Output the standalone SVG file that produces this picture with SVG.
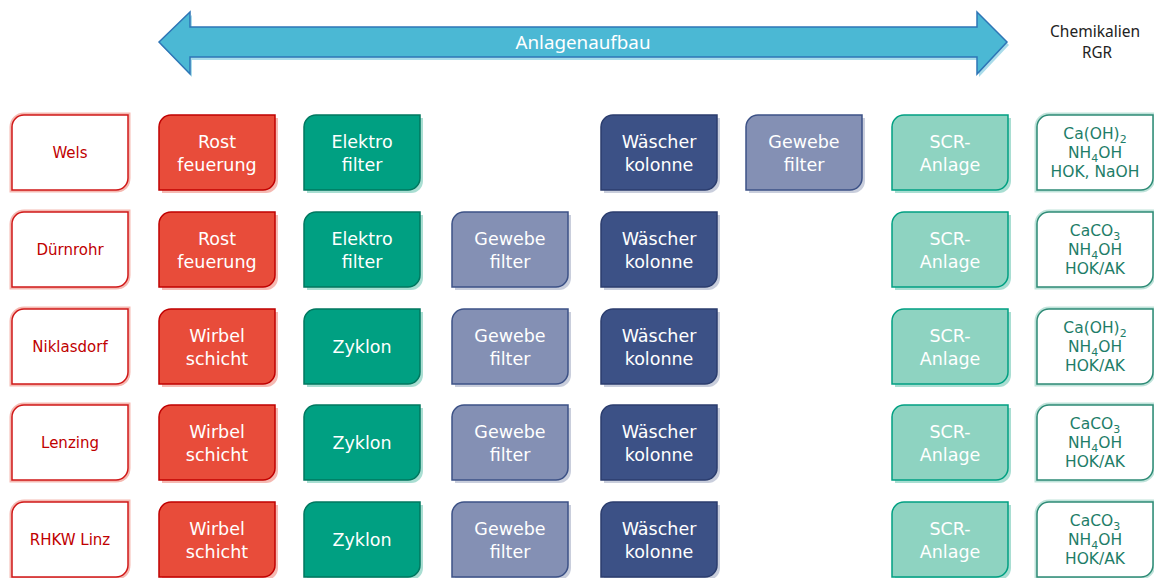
<svg xmlns="http://www.w3.org/2000/svg" xmlns:xlink="http://www.w3.org/1999/xlink" width="1154" height="578" viewBox="0 0 1154 578">
<style>
text{font-family:"DejaVu Sans",Verdana,sans-serif;text-anchor:middle}
.t{font-size:17.5px;fill:#fff}
.loc{font-size:15px;fill:#C00000}
.chem{font-size:15.5px;fill:#1E7D68}
.hdr{font-family:"Noto Sans","Liberation Sans",sans-serif;font-size:15.5px;fill:#222}
.sub{font-size:11px}
.sh-red{fill:#F5B9B2}
.sh-grn{fill:#A9DED2}
.sh-blu{fill:#C9CEDC}
.red{fill:#E84C3A;stroke:#C00000;stroke-width:1.5}
.grn{fill:#00A082;stroke:#00775F;stroke-width:1.5}
.dbl{fill:#3C5186;stroke:#2B3D6E;stroke-width:1.5}
.gew{fill:#8490B4;stroke:#3C5186;stroke-width:1.5}
.scr{fill:#8ED3C1;stroke:#00A082;stroke-width:1.5}
.wloc{fill:#fff;stroke:#F5B9B2;stroke-width:5}
.wlocIn{fill:#fff;stroke:#D01818;stroke-width:1.5}
.wch{fill:#fff;stroke:#BFE3DA;stroke-width:5}
.wchIn{fill:#fff;stroke:#2E8B76;stroke-width:1.5}
</style>
<defs>
<path id="b" d="M12,0 H116 V63 A12,12 0 0 1 104,75 H0 V12 A12,12 0 0 1 12,0 Z"/>
</defs>
<g id="arrow">
<polygon points="161,45 192,15 192,30 979,30 979,15 1009,45 979,77 979,60 192,60 192,77" fill="#A9DCEA"/>
<polygon points="159,42 190,12 190,27 977,27 977,12 1007,42 977,74 977,57 190,57 190,74" fill="#4BB8D4" stroke="#2E75B6" stroke-width="1.5"/>
<text x="583" y="49" style="font-family:'Noto Sans','Liberation Sans',sans-serif;font-size:18px;fill:#fff" textLength="135" lengthAdjust="spacingAndGlyphs">Anlagenaufbau</text>
</g>
<g id="hdr-chem">
<text class="hdr" x="1095" y="37" textLength="90" lengthAdjust="spacingAndGlyphs">Chemikalien</text>
<text class="hdr" x="1097" y="58" textLength="30" lengthAdjust="spacingAndGlyphs">RGR</text>
</g>

<!-- Row 1 -->
<g id="wels"><use href="#b" x="14" y="117" class="sh-red"/><use href="#b" x="12" y="115" class="wloc"/><use href="#b" x="12" y="115" class="wlocIn"/><text class="loc" x="70" y="158">Wels</text></g>
<g id="r1c1"><use href="#b" x="162" y="118" class="sh-red"/><use href="#b" x="159" y="115" class="red"/><text class="t" x="217" y="148">Rost</text><text class="t" x="217" y="171">feuerung</text></g>
<g id="r1c2"><use href="#b" x="307" y="118" class="sh-grn"/><use href="#b" x="304" y="115" class="grn"/><text class="t" x="362" y="148">Elektro</text><text class="t" x="362" y="171">filter</text></g>
<g id="r1c4"><use href="#b" x="604" y="118" class="sh-blu"/><use href="#b" x="601" y="115" class="dbl"/><text class="t" x="659" y="148">Wäscher</text><text class="t" x="659" y="171">kolonne</text></g>
<g id="r1c5"><use href="#b" x="749" y="118" class="sh-blu"/><use href="#b" x="746" y="115" class="gew"/><text class="t" x="804" y="148">Gewebe</text><text class="t" x="804" y="171">filter</text></g>
<g id="r1c6"><use href="#b" x="895" y="118" class="sh-grn"/><use href="#b" x="892" y="115" class="scr"/><text class="t" x="950" y="148">SCR-</text><text class="t" x="950" y="171">Anlage</text></g>
<g id="r1c7"><use href="#b" x="1037" y="115" class="wch"/><use href="#b" x="1037" y="115" class="wchIn"/><text class="chem" x="1095" y="139">Ca(OH)<tspan class="sub" dy="4">2</tspan></text><text class="chem" x="1095" y="158">NH<tspan class="sub" dy="4">4</tspan><tspan dy="-4">OH</tspan></text><text class="chem" x="1095" y="177">HOK, NaOH</text></g>

<!-- Row 2 -->
<g id="duernrohr"><use href="#b" x="14" y="214" class="sh-red"/><use href="#b" x="12" y="212" class="wloc"/><use href="#b" x="12" y="212" class="wlocIn"/><text class="loc" x="70" y="255">Dürnrohr</text></g>
<g id="r2c1"><use href="#b" x="162" y="215" class="sh-red"/><use href="#b" x="159" y="212" class="red"/><text class="t" x="217" y="245">Rost</text><text class="t" x="217" y="268">feuerung</text></g>
<g id="r2c2"><use href="#b" x="307" y="215" class="sh-grn"/><use href="#b" x="304" y="212" class="grn"/><text class="t" x="362" y="245">Elektro</text><text class="t" x="362" y="268">filter</text></g>
<g id="r2c3"><use href="#b" x="455" y="215" class="sh-blu"/><use href="#b" x="452" y="212" class="gew"/><text class="t" x="510" y="245">Gewebe</text><text class="t" x="510" y="268">filter</text></g>
<g id="r2c4"><use href="#b" x="604" y="215" class="sh-blu"/><use href="#b" x="601" y="212" class="dbl"/><text class="t" x="659" y="245">Wäscher</text><text class="t" x="659" y="268">kolonne</text></g>
<g id="r2c6"><use href="#b" x="895" y="215" class="sh-grn"/><use href="#b" x="892" y="212" class="scr"/><text class="t" x="950" y="245">SCR-</text><text class="t" x="950" y="268">Anlage</text></g>
<g id="r2c7"><use href="#b" x="1037" y="212" class="wch"/><use href="#b" x="1037" y="212" class="wchIn"/><text class="chem" x="1095" y="236">CaCO<tspan class="sub" dy="4">3</tspan></text><text class="chem" x="1095" y="255">NH<tspan class="sub" dy="4">4</tspan><tspan dy="-4">OH</tspan></text><text class="chem" x="1095" y="274">HOK/AK</text></g>

<!-- Row 3 -->
<g id="niklasdorf"><use href="#b" x="14" y="311" class="sh-red"/><use href="#b" x="12" y="309" class="wloc"/><use href="#b" x="12" y="309" class="wlocIn"/><text class="loc" x="70" y="352">Niklasdorf</text></g>
<g id="r3c1"><use href="#b" x="162" y="312" class="sh-red"/><use href="#b" x="159" y="309" class="red"/><text class="t" x="217" y="342">Wirbel</text><text class="t" x="217" y="365">schicht</text></g>
<g id="r3c2"><use href="#b" x="307" y="312" class="sh-grn"/><use href="#b" x="304" y="309" class="grn"/><text class="t" x="362" y="353">Zyklon</text></g>
<g id="r3c3"><use href="#b" x="455" y="312" class="sh-blu"/><use href="#b" x="452" y="309" class="gew"/><text class="t" x="510" y="342">Gewebe</text><text class="t" x="510" y="365">filter</text></g>
<g id="r3c4"><use href="#b" x="604" y="312" class="sh-blu"/><use href="#b" x="601" y="309" class="dbl"/><text class="t" x="659" y="342">Wäscher</text><text class="t" x="659" y="365">kolonne</text></g>
<g id="r3c6"><use href="#b" x="895" y="312" class="sh-grn"/><use href="#b" x="892" y="309" class="scr"/><text class="t" x="950" y="342">SCR-</text><text class="t" x="950" y="365">Anlage</text></g>
<g id="r3c7"><use href="#b" x="1037" y="309" class="wch"/><use href="#b" x="1037" y="309" class="wchIn"/><text class="chem" x="1095" y="333">Ca(OH)<tspan class="sub" dy="4">2</tspan></text><text class="chem" x="1095" y="352">NH<tspan class="sub" dy="4">4</tspan><tspan dy="-4">OH</tspan></text><text class="chem" x="1095" y="371">HOK/AK</text></g>

<!-- Row 4 -->
<g id="lenzing"><use href="#b" x="14" y="407" class="sh-red"/><use href="#b" x="12" y="405" class="wloc"/><use href="#b" x="12" y="405" class="wlocIn"/><text class="loc" x="70" y="448">Lenzing</text></g>
<g id="r4c1"><use href="#b" x="162" y="408" class="sh-red"/><use href="#b" x="159" y="405" class="red"/><text class="t" x="217" y="438">Wirbel</text><text class="t" x="217" y="461">schicht</text></g>
<g id="r4c2"><use href="#b" x="307" y="408" class="sh-grn"/><use href="#b" x="304" y="405" class="grn"/><text class="t" x="362" y="449">Zyklon</text></g>
<g id="r4c3"><use href="#b" x="455" y="408" class="sh-blu"/><use href="#b" x="452" y="405" class="gew"/><text class="t" x="510" y="438">Gewebe</text><text class="t" x="510" y="461">filter</text></g>
<g id="r4c4"><use href="#b" x="604" y="408" class="sh-blu"/><use href="#b" x="601" y="405" class="dbl"/><text class="t" x="659" y="438">Wäscher</text><text class="t" x="659" y="461">kolonne</text></g>
<g id="r4c6"><use href="#b" x="895" y="408" class="sh-grn"/><use href="#b" x="892" y="405" class="scr"/><text class="t" x="950" y="438">SCR-</text><text class="t" x="950" y="461">Anlage</text></g>
<g id="r4c7"><use href="#b" x="1037" y="405" class="wch"/><use href="#b" x="1037" y="405" class="wchIn"/><text class="chem" x="1095" y="429">CaCO<tspan class="sub" dy="4">3</tspan></text><text class="chem" x="1095" y="448">NH<tspan class="sub" dy="4">4</tspan><tspan dy="-4">OH</tspan></text><text class="chem" x="1095" y="467">HOK/AK</text></g>

<!-- Row 5 -->
<g id="rhkw"><use href="#b" x="14" y="504" class="sh-red"/><use href="#b" x="12" y="502" class="wloc"/><use href="#b" x="12" y="502" class="wlocIn"/><text class="loc" x="70" y="545">RHKW Linz</text></g>
<g id="r5c1"><use href="#b" x="162" y="505" class="sh-red"/><use href="#b" x="159" y="502" class="red"/><text class="t" x="217" y="535">Wirbel</text><text class="t" x="217" y="558">schicht</text></g>
<g id="r5c2"><use href="#b" x="307" y="505" class="sh-grn"/><use href="#b" x="304" y="502" class="grn"/><text class="t" x="362" y="546">Zyklon</text></g>
<g id="r5c3"><use href="#b" x="455" y="505" class="sh-blu"/><use href="#b" x="452" y="502" class="gew"/><text class="t" x="510" y="535">Gewebe</text><text class="t" x="510" y="558">filter</text></g>
<g id="r5c4"><use href="#b" x="604" y="505" class="sh-blu"/><use href="#b" x="601" y="502" class="dbl"/><text class="t" x="659" y="535">Wäscher</text><text class="t" x="659" y="558">kolonne</text></g>
<g id="r5c6"><use href="#b" x="895" y="505" class="sh-grn"/><use href="#b" x="892" y="502" class="scr"/><text class="t" x="950" y="535">SCR-</text><text class="t" x="950" y="558">Anlage</text></g>
<g id="r5c7"><use href="#b" x="1037" y="502" class="wch"/><use href="#b" x="1037" y="502" class="wchIn"/><text class="chem" x="1095" y="526">CaCO<tspan class="sub" dy="4">3</tspan></text><text class="chem" x="1095" y="545">NH<tspan class="sub" dy="4">4</tspan><tspan dy="-4">OH</tspan></text><text class="chem" x="1095" y="564">HOK/AK</text></g>

<g id="connectors"/>
</svg>
